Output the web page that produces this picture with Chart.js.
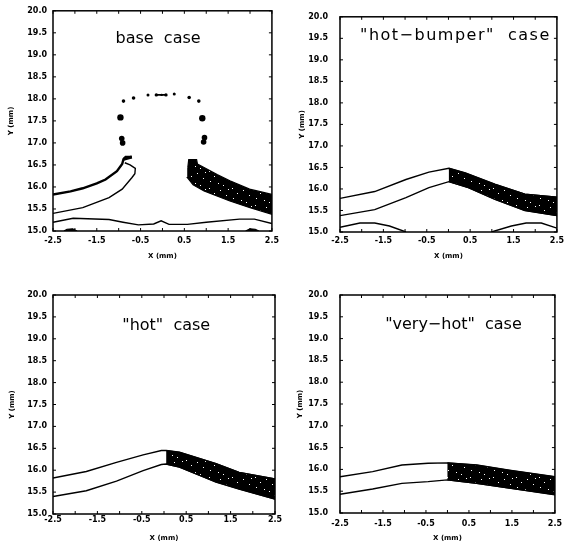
<!DOCTYPE html>
<html>
<head>
<meta charset="utf-8">
<script src="https://cdn.jsdelivr.net/npm/chart.js@4.4.1/dist/chart.umd.min.js"></script>
<style>
  html, body { margin: 0; padding: 0; background: #fff; }
  #wrap { position: relative; width: 568px; height: 544px; }
  canvas { position: absolute; }
</style>
</head>
<body>
<div id="wrap">
  <canvas id="c1" width="284" height="272" style="left:0;top:0"></canvas>
  <canvas id="c2" width="284" height="272" style="left:284px;top:0"></canvas>
  <canvas id="c3" width="284" height="272" style="left:0;top:272px"></canvas>
  <canvas id="c4" width="284" height="272" style="left:284px;top:272px"></canvas>
</div>
<script>
// axes
const X_MIN = -2.5, X_MAX = 2.5, Y_MIN = 15, Y_MAX = 20;
const TITLES = ["base  case", "\"hot\u2212bumper\"  case", "\"hot\"  case", "\"very\u2212hot\"  case"];

// base case
const baseUpperL = [[-2.5, 15.83], [-2.1, 15.9], [-1.82, 15.97], [-1.5, 16.08], [-1.3, 16.17], [-1.04, 16.36], [-0.92, 16.52], [-0.89, 16.63], [-0.84, 16.68], [-0.7, 16.68]];
const baseLowerL = [[-0.86, 16.55], [-0.74, 16.5], [-0.62, 16.42], [-0.63, 16.3], [-0.7, 16.21], [-0.92, 15.95], [-1.22, 15.76], [-1.82, 15.53], [-2.5, 15.4]];
const baseUpperR = [[0.58, 16.45], [0.6, 16.62], [0.78, 16.62], [0.8, 16.52], [0.95, 16.44], [1.25, 16.28], [1.54, 16.14], [1.99, 15.95], [2.5, 15.83]];
const baseLowerR = [[0.58, 16.45], [0.57, 16.21], [0.7, 16.05], [0.95, 15.91], [1.54, 15.68], [2.0, 15.53], [2.5, 15.38]];
const baseWave = [[-2.5, 15.2], [-2.04, 15.29], [-1.22, 15.26], [-0.9, 15.2], [-0.55, 15.14], [-0.2, 15.16], [-0.03, 15.23], [0.15, 15.15], [0.57, 15.15], [1.0, 15.2], [1.76, 15.27], [2.1, 15.27], [2.5, 15.17]];
const baseBumpL = [[-2.25, 15.0], [-2.18, 15.04], [-2.05, 15.05], [-1.95, 15.0]];
const baseBumpR = [[1.9, 15.0], [2.0, 15.05], [2.12, 15.04], [2.2, 15.0]];
const baseDots = [[-0.89, 17.95], [-0.66, 18.02], [-0.33, 18.09], [-0.14, 18.09], [-0.02, 18.09], [0.08, 18.09], [0.27, 18.11], [0.61, 18.03], [0.83, 17.95], [-0.96, 17.58], [0.91, 17.56], [-0.93, 17.1], [-0.91, 17.0], [0.96, 17.12], [0.94, 17.02]];
const baseDash = [[-0.14, 18.09], [0.08, 18.09]];

// "hot-bumper" case
const hbUpper = [[-2.5, 15.78], [-1.7, 15.94], [-0.98, 16.22], [-0.45, 16.39], [0.01, 16.48], [0.39, 16.37], [1.07, 16.11], [1.76, 15.88], [2.5, 15.81]];
const hbLower = [[-2.5, 15.38], [-1.7, 15.52], [-0.98, 15.8], [-0.45, 16.03], [0.01, 16.17], [0.46, 16.03], [1.07, 15.76], [1.76, 15.5], [2.5, 15.38]];
const hbWaveL = [[-2.5, 15.11], [-2.04, 15.21], [-1.7, 15.21], [-1.36, 15.14], [-0.98, 15.0]];
const hbWaveR = [[0.99, 15.0], [1.45, 15.14], [1.79, 15.21], [2.14, 15.21], [2.5, 15.09]];
const hbSplit = 0.01;

// "hot" case
const hotUpper = [[-2.5, 15.82], [-1.75, 15.97], [-1.07, 16.18], [-0.47, 16.35], [-0.06, 16.45], [0.05, 16.45], [0.35, 16.41], [1.17, 16.15], [1.69, 15.95], [2.5, 15.8]];
const hotLower = [[-2.5, 15.4], [-1.75, 15.53], [-1.07, 15.75], [-0.47, 15.99], [-0.06, 16.13], [0.05, 16.14], [0.35, 16.07], [1.17, 15.73], [1.69, 15.57], [2.5, 15.34]];
const hotSplit = 0.05;

// "very-hot" case
const vhUpper = [[-2.5, 15.83], [-1.74, 15.95], [-1.06, 16.1], [-0.45, 16.14], [0.0, 16.15], [0.68, 16.1], [1.44, 15.98], [2.5, 15.83]];
const vhLower = [[-2.5, 15.43], [-1.74, 15.55], [-1.06, 15.68], [-0.45, 15.72], [0.0, 15.76], [0.68, 15.68], [1.44, 15.57], [2.5, 15.42]];
const vhSplit = 0.0;

const toXY = (arr) => arr.map((p) => ({ x: p[0], y: p[1] }));

// speckled black fill
function speckle() {
  const c = document.createElement("canvas");
  c.width = 23;
  c.height = 17;
  const g = c.getContext("2d");
  g.fillStyle = "#000";
  g.fillRect(0, 0, 23, 17);
  g.fillStyle = "#fff";
  [[2, 1], [13, 3], [7, 6], [19, 8], [3, 11], [11, 13], [16, 15], [21, 2]].forEach((p) => g.fillRect(p[0], p[1], 1, 1));
  return g.createPattern(c, "repeat");
}
const SPECKLE = speckle();

function line(pts, w) {
  return { data: toXY(pts), showLine: true, borderColor: "#000", borderWidth: w || 1.4, pointRadius: 0, fill: false, tension: 0 };
}
function shape(pts, bg) {
  return { data: toXY(pts), showLine: true, borderColor: "#000", borderWidth: 1.2, pointRadius: 0, fill: "shape", backgroundColor: bg, tension: 0 };
}
function darkBand(upper, lower, split) {
  const u = upper.filter((p) => p[0] >= split);
  const l = lower.filter((p) => p[0] >= split).reverse();
  return shape(u.concat(l), SPECKLE);
}

const frame = {
  id: "frame",
  afterDatasetsDraw(chart, args, opts) {
    const { ctx, chartArea: a, scales } = chart;
    ctx.save();
    ctx.strokeStyle = "#000";
    ctx.lineWidth = 1.5;
    ctx.strokeRect(a.left, a.top, a.right - a.left, a.bottom - a.top);
    ctx.lineWidth = 1;
    ctx.beginPath();
    scales.x.ticks.forEach((t) => {
      const px = scales.x.getPixelForValue(t.value);
      ctx.moveTo(px, a.bottom); ctx.lineTo(px, a.bottom - 3);
      ctx.moveTo(px, a.top); ctx.lineTo(px, a.top + 3);
    });
    scales.y.ticks.forEach((t) => {
      const py = scales.y.getPixelForValue(t.value);
      ctx.moveTo(a.left, py); ctx.lineTo(a.left + 3, py);
      ctx.moveTo(a.right, py); ctx.lineTo(a.right - 3, py);
    });
    ctx.stroke();
    ctx.fillStyle = "#000";
    ctx.font = '16px "DejaVu Sans"';
    ctx.textAlign = "center";
    ctx.textBaseline = "middle";
    ctx.letterSpacing = (opts.spacing || 0) + "px";
    ctx.fillText(opts.text, scales.x.getPixelForValue(opts.x), scales.y.getPixelForValue(opts.y));
    ctx.restore();
  },
};

const tickFont = { family: "DejaVu Sans", size: 8, weight: "bold" };
const axisFont = { family: "DejaVu Sans", size: 7, weight: "bold" };

function makePanel(id, title, datasets, lay) {
  new Chart(document.getElementById(id), {
    type: "scatter",
    data: { datasets },
    options: {
      responsive: false,
      animation: false,
      layout: { padding: { top: lay.top, right: lay.right, left: 0, bottom: 0 } },
      plugins: {
        legend: { display: false },
        tooltip: { enabled: false },
        frame: { text: title, x: lay.tx, y: lay.ty, spacing: lay.sp },
      },
      scales: {
        x: {
          type: "linear",
          min: X_MIN,
          max: X_MAX,
          grid: { display: false, drawTicks: false, tickLength: 0 },
          border: { display: false },
          ticks: {
            stepSize: 0.5,
            autoSkip: false,
            maxRotation: 0,
            padding: lay.xPad,
            color: "#000",
            font: tickFont,
            callback: (v) => (Math.round((v - X_MIN) * 2) % 2 === 0 ? v.toFixed(1) : ""),
          },
          title: { display: true, text: "X (mm)", color: "#000", font: axisFont, padding: { top: 0, bottom: lay.xTitle } },
          afterFit: (s) => { s.height = lay.xh; },
        },
        y: {
          type: "linear",
          min: Y_MIN,
          max: Y_MAX,
          grid: { display: false, drawTicks: false, tickLength: 0 },
          border: { display: false },
          ticks: { stepSize: 0.5, padding: lay.yPad, color: "#000", font: tickFont, callback: (v) => v.toFixed(1) },
          title: { display: true, text: "Y (mm)", color: "#000", font: axisFont, padding: { top: lay.yTitle, bottom: 0 } },
          afterFit: (s) => { s.width = lay.yw; },
        },
      },
    },
    plugins: [frame],
  });
}

const dots = line(baseDots);
dots.showLine = false;
dots.pointRadius = [1.8, 1.8, 1.5, 1.7, 1.2, 1.7, 1.5, 1.8, 1.8, 3.2, 3.2, 2.8, 2.8, 2.8, 2.8];
dots.pointBackgroundColor = "#000";
dots.pointBorderWidth = 0;

makePanel("c1", TITLES[0], [
  line(baseUpperL, 2.4), line(baseLowerL), line(baseWave), line(baseDash, 1.8), dots,
  line([baseUpperL[7], baseUpperL[9]], 3), shape(baseBumpL, "#000"), shape(baseBumpR, "#000"),
  shape(baseUpperR.concat(baseLowerR.slice().reverse()), SPECKLE),
], { top: 10, right: 8, yw: 53, xh: 41, xPad: 5, yPad: 6, xTitle: 12, yTitle: 7, tx: -0.1, ty: 19.37, sp: 0 });

makePanel("c2", TITLES[1], [
  line(hbUpper), line(hbLower), line(hbWaveL), line(hbWaveR), darkBand(hbUpper, hbLower, hbSplit),
], { top: 12, right: 8, yw: 56, xh: 40, xPad: 4, yPad: 12, xTitle: 12, yTitle: 14, tx: 0.16, ty: 19.55, sp: 1.5 });

makePanel("c3", TITLES[2], [
  line(hotUpper), line(hotLower), darkBand(hotUpper, hotLower, hotSplit),
], { top: 23, right: 9, yw: 53, xh: 30, xPad: 1, yPad: 6, xTitle: 2, yTitle: 8, tx: 0.05, ty: 19.29, sp: 0 });

makePanel("c4", TITLES[3], [
  line(vhUpper), line(vhLower), darkBand(vhUpper, vhLower, vhSplit),
], { top: 23, right: 8, yw: 56, xh: 31, xPad: 6, yPad: 12, xTitle: 2, yTitle: 12, tx: 0.14, ty: 19.31, sp: 0 });
</script>
</body>
</html>
